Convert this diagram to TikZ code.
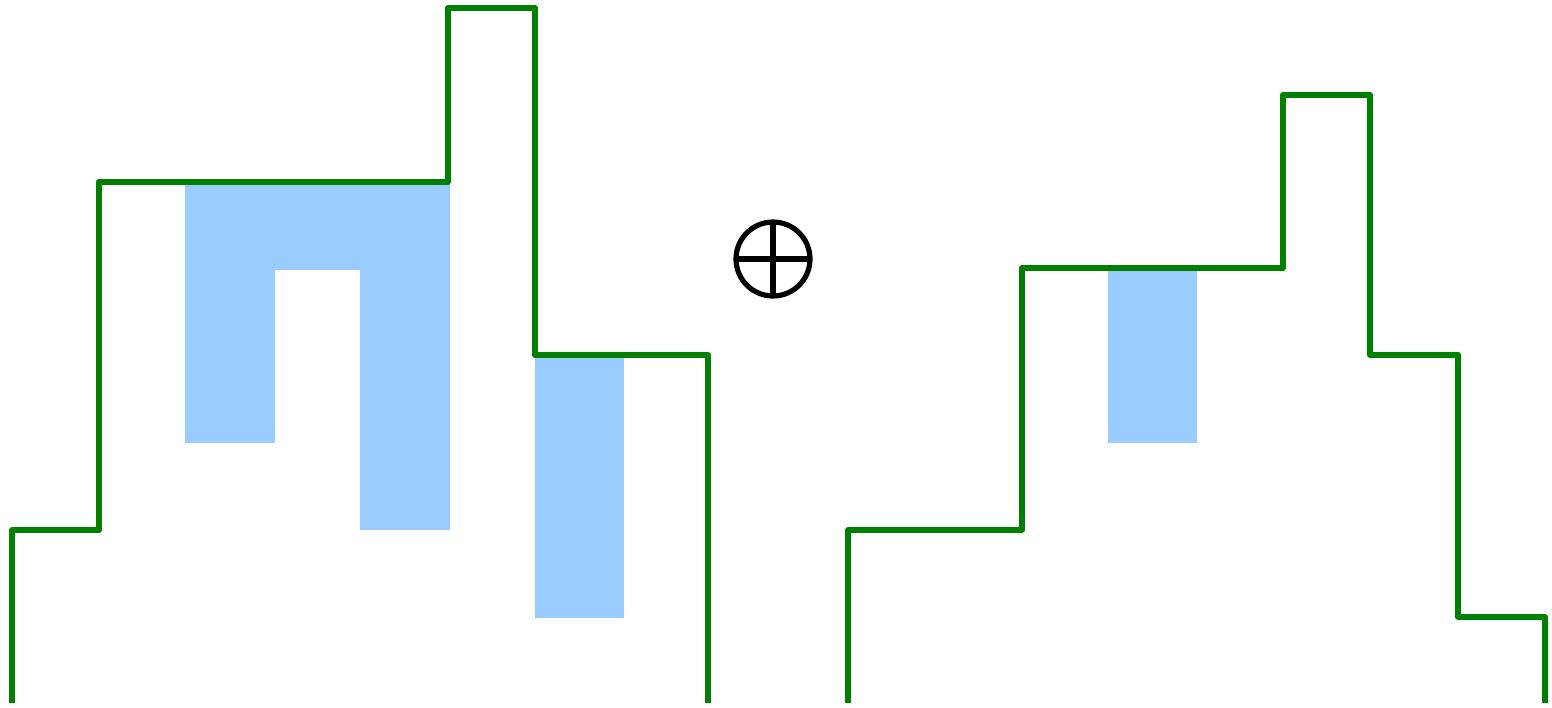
\documentclass[tikz,border=0pt]{standalone}
\begin{document}
\begin{tikzpicture}[x=0.5pt,y=-0.5pt,
  sky/.style={draw={rgb,255:red,0;green,128;blue,0},line width=3pt,line join=round},
  water/.style={fill={rgb,255:red,153;green,204;blue,255}},
  op/.style={draw=black,line width=2.6pt}]
\useasboundingbox (0,0) rectangle (1552,707);
% left water
\fill[water] (185,183) rectangle (275,443);
\fill[water] (275,183) rectangle (360,270);
\fill[water] (360,183) rectangle (450,530);
\fill[water] (535,355) rectangle (624,618);
% right water
\fill[water] (1108,268) rectangle (1197,443);
% left skyline
\draw[sky] (12,703) -- (12,530) -- (99,530) -- (99,182) -- (448,182) -- (448,8) -- (535,8) -- (535,355) -- (708,355) -- (708,703);
% right skyline
\draw[sky] (848,703) -- (848,530) -- (1022,530) -- (1022,268) -- (1283,268) -- (1283,95) -- (1370,95) -- (1370,355) -- (1458,355) -- (1458,617) -- (1545,617) -- (1545,703);
% operator
\coordinate (c) at (773,259);
\draw[op] (c) circle[radius=18.5pt];
\draw[op] ([yshift=-18.5pt]c) -- ([yshift=18.5pt]c);
\draw[op] ([xshift=-18.5pt]c) -- ([xshift=18.5pt]c);
\end{tikzpicture}
\end{document}
